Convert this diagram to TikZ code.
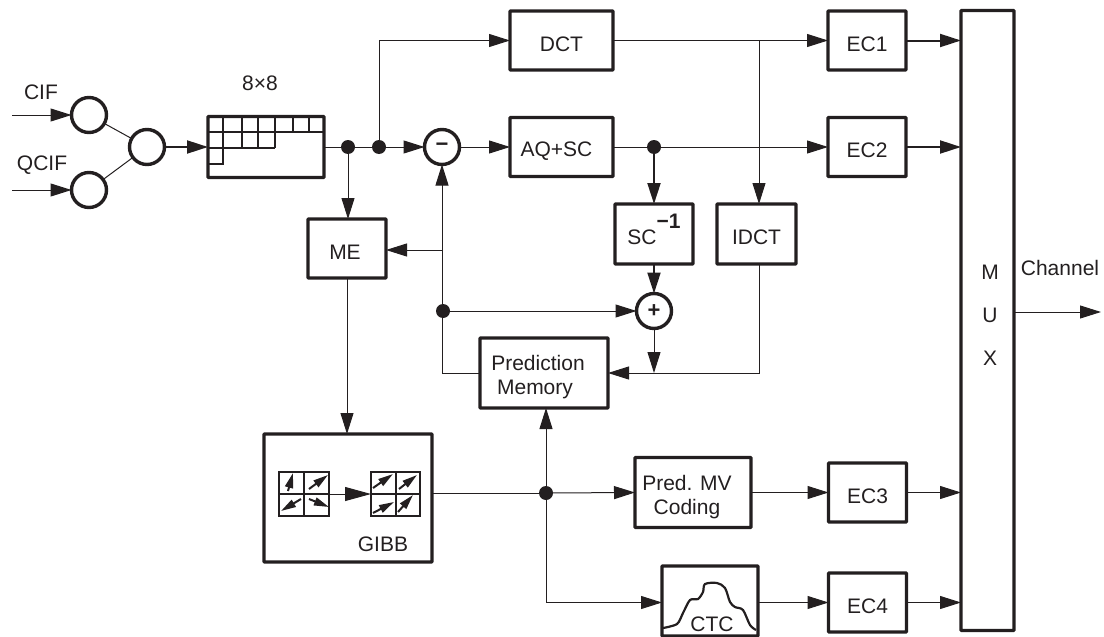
\documentclass[tikz,border=0pt]{standalone}
\usepackage{fontspec}
\setmainfont{Liberation Sans}
\usetikzlibrary{arrows.meta,positioning,shapes.geometric}
\definecolor{inkblack}{RGB}{35,31,32}
\begin{document}
\begin{tikzpicture}[
  x=1pt, y=-1pt, color=inkblack, font=\fontsize{21}{24}\selectfont,
  box/.style={rectangle, draw, line width=3.4pt, rounded corners=0.8pt, outer sep=0pt, inner sep=0pt,
    minimum width=78pt, minimum height=59pt, text height=22pt, align=center},
  ring/.style={circle, draw, line width=3.4pt, outer sep=0pt, inner sep=0pt, minimum size=35pt, font=\fontsize{22}{24}\bfseries},
  dot/.style={circle, fill, outer sep=0pt, inner sep=0pt, minimum size=14pt},
  lbl/.style={inner sep=0pt, outer sep=0pt},
  wire/.style={line width=1pt},
  arr/.style={-{Triangle[length=21pt,width=13pt]}, line width=1pt},
  arrb/.style={-{Triangle[length=21pt,width=13pt]}, line width=2pt},
  cell/.style={line width=2pt},
  mv/.style={-{Triangle[length=15pt,width=8pt]}, line width=2pt},
  mvgrid/.style={rectangle, draw, line width=2.2pt, outer sep=0pt, inner sep=0pt, minimum width=50pt, minimum height=44pt}]
\useasboundingbox (0,0) rectangle (1104,637);
% input side
\node[ring] (cif) at (89,115) {};
\node[ring] (qcif) at (89,190) {};
\node[ring] (sel) at (147,147) {};
\coordinate (cifin) at (12,115);
\coordinate (qcifin) at (12,190);
\node[lbl] (ciftxt) at (41,92) {CIF};
\node[lbl] (qciftxt) at (42,165) {QCIF};
\draw[arr] (cifin) -- (cif);
\draw[arr] (qcifin) -- (qcif);
\draw[wire] (cif) -- (sel);
\draw[wire] (qcif) -- (sel);
% 8x8 block
\node[box, minimum width=116pt, minimum height=61pt] (blk) at (266,147) {};
\node[lbl] (blktxt) at (260,83) {8×8};
\foreach \x in {223,242,258,275,293,309} \draw[cell] (\x,116) -- (\x,132);
\foreach \x in {223,242,258,275} \draw[cell] (\x,132) -- (\x,148);
\draw[cell] (208,132) -- (324,132);
\draw[cell] (208,148) -- (275,148);
\draw[cell] (223,148) -- (223,164) -- (208,164);
\draw[arrb] (sel) -- (blk.west);
% forward path
\node[dot] (dotme) at (348,147) {};
\node[dot] (dotdct) at (379,147) {};
\node[ring] (minus) at (442,147) {−};
\node[box, minimum width=103pt] (dct) at (561.5,40.5) {DCT};
\node[box, minimum width=103pt, below=47.5pt of dct] (aqsc) {AQ+SC\hspace*{10pt}};
\node[box] (ec1) at (867,40.5) {EC1};
\node[box, below=47.5pt of ec1] (ec2) {EC2};
\node[box, minimum width=53pt, minimum height=620pt] (mux) at (987.5,320.5) {};
\node[lbl, align=center, font=\fontsize{21}{43}\selectfont] (muxtxt) at (990,315) {M\\U\\X};
\node[lbl] (chtxt) at (1060,268) {Channel};
\coordinate (chout) at (1101,312);
\node[dot] (dotsc) at (654,147) {};
\coordinate (tap) at (759,40.5);
\draw[wire] (blk.east) -- (dotme) -- (dotdct);
\draw[arr] (dotdct) -- (minus);
\draw[arr] (dotdct) |- (dct.west);
\draw[arr] (minus) -- (aqsc.west);
\draw[arr] (dct.east) -- (ec1.west);
\draw[arr] (aqsc.east) -- (ec2.west);
\draw[arrb] (ec1.east) -- (ec1.east -| mux.west);
\draw[arrb] (ec2.east) -- (ec2.east -| mux.west);
\draw[arr] (mux.east |- chout) -- (chout);
% reconstruction loop
\node[box, minimum height=60pt] (sc) at (654,234) {SC\raisebox{16pt}{\textbf{−1}}};
\node[box, minimum width=79pt, minimum height=60pt] (idct) at (756.5,234) {IDCT};
\node[ring] (plus) at (654,311) {+};
\node[box, minimum width=128pt, minimum height=70pt, text height=48pt] (mem) at (544,373) {Prediction\hspace*{12pt}\\Memory\hspace*{18pt}};
\node[box, minimum height=59pt] (me) at (347,248.5) {ME\hspace*{4pt}};
\node[dot] (dotfb) at (443,311) {};
\coordinate (fbme) at (443,250);
\draw[arr] (tap) -- (tap |- idct.north);
\draw[arrb] (dotsc) -- (sc.north);
\draw[arrb] (sc.south) -- (plus.north);
\draw[arr] (plus.south) -- (plus.south |- mem.east);
\draw[arr] (tap |- idct.south) |- (mem.east);
\draw[arr] (mem.west) -| (minus.south);
\draw[arr] (dotfb) -- (plus.west);
\draw[arr] (fbme) -- (fbme -| me.east);
\draw[arr] (dotme) -- (dotme |- me.north);
% motion vector field
\node[box, minimum width=168pt, minimum height=128pt] (gibb) at (348,498) {};
\node[lbl] (gibbtxt) at (383,544) {GIBB};
\node[mvgrid] (gl) at (304,494) {};
\node[mvgrid, minimum width=49pt] (gr) at (395.5,494) {};
\draw[cell] (gl.north) -- (gl.south);
\draw[cell] (gl.west) -- (gl.east);
\draw[cell] (gr.north) -- (gr.south);
\draw[cell] (gr.west) -- (gr.east);
\draw[mv] (288,491) -- (293,473);
\draw[mv] (309,489) -- (328,475);
\draw[mv] (301,499) -- (281,511);
\draw[mv] (309,499) -- (329,507);
\draw[mv] (373,488) -- (393,474);
\draw[mv] (399,489) -- (417,475);
\draw[mv] (373,513) -- (394,502);
\draw[mv] (398,512) -- (413,495);
\draw[-{Triangle[length=26pt,width=14pt]}, line width=1pt] (gl.east) -- (gr.west);
\draw[arr] (me.south) -- (me.south |- gibb.north);
% side information
\node[dot] (dotmv) at (546,493) {};
\node[box, minimum width=116pt, minimum height=70pt, text height=48pt] (pmv) at (693,492.5) {Pred. MV\hspace*{12pt}\\Coding\hspace*{12pt}};
\node[box] (ec3) at (867.5,492.5) {EC3};
\node[box, below=51pt of ec3] (ec4) {EC4};
\node[box, minimum width=96pt, minimum height=70pt] (ctc) at (710,601) {};
\node[lbl] (ctctxt) at (712,624) {CTC};
\draw[line width=2.2pt] plot[smooth, tension=0.5] coordinates {(663,628) (677,624) (683,613) (690,600) (698,599) (703,592) (705,584) (717,583) (725,588) (730,602) (735,607) (743,610) (750,625) (756,630)};
\draw[wire] (gibb.east |- dotmv) -- (dotmv);
\draw[arr] (dotmv) -- (dotmv |- mem.south);
\draw[arr] (dotmv) -- (pmv.west);
\draw[arr] (dotmv) |- (ctc.west |- ec4.west);
\draw[arr] (pmv.east) -- (ec3.west);
\draw[arr] (ctc.east |- ec4.west) -- (ec4.west);
\draw[arr] (ec3.east) -- (ec3.east -| mux.west);
\draw[arr] (ec4.east) -- (ec4.east -| mux.west);
\end{tikzpicture}
\end{document}
